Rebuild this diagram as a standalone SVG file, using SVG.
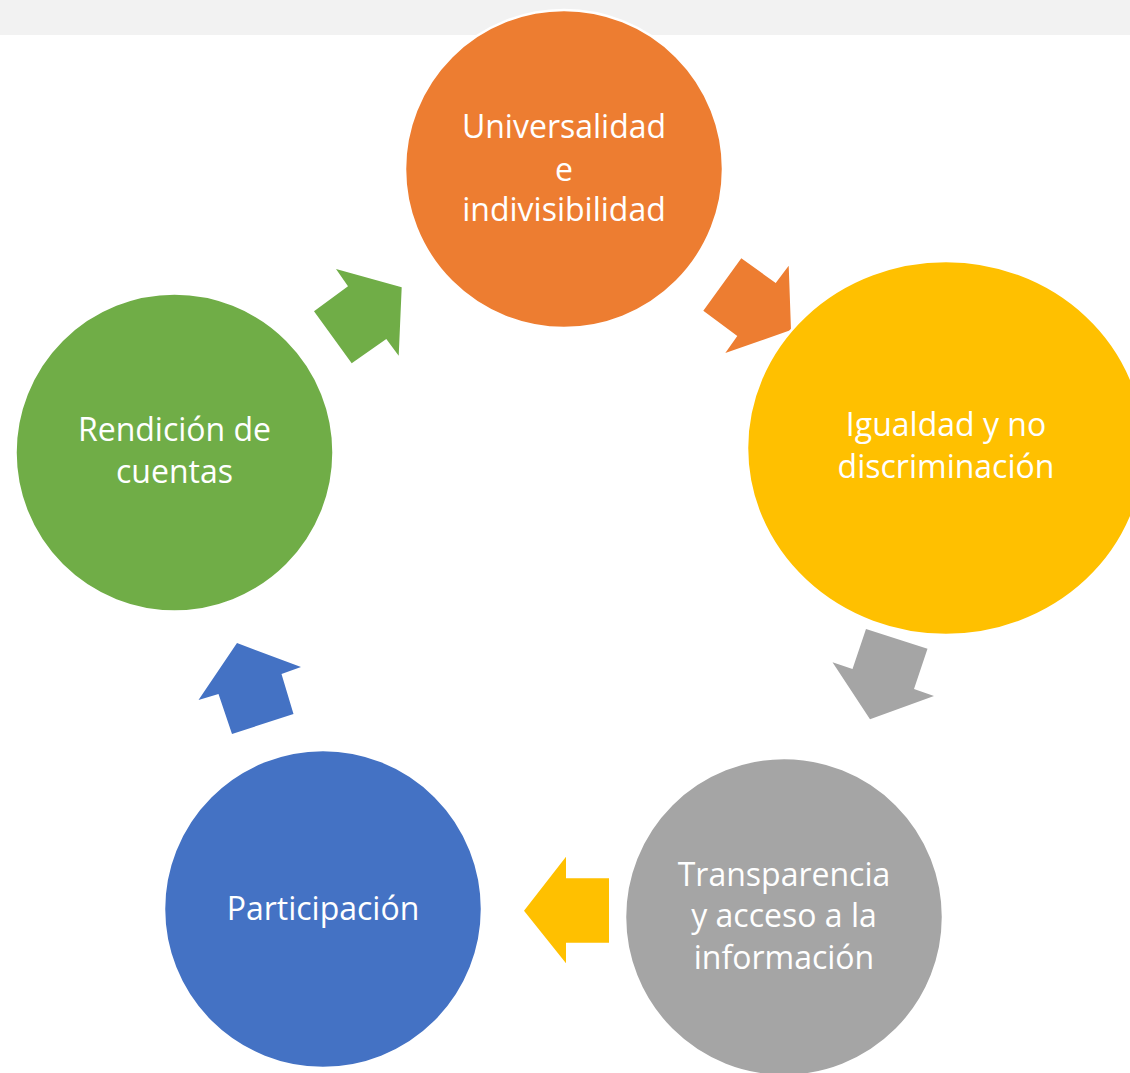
<svg xmlns="http://www.w3.org/2000/svg" width="1130" height="1073" viewBox="0 0 1130 1073">
<style>
.node{stroke:#FFFFFF;stroke-width:2.5}
.lbl{font-family:"Open Sans","Noto Sans","Liberation Sans",sans-serif;font-size:32px;fill:#FFFFFF;text-anchor:middle}
</style>
<rect x="0" y="0" width="1130" height="1073" fill="#FFFFFF"/>
<rect x="0" y="0" width="1130" height="35" fill="#F2F2F2"/>
<g id="connectors">
<polygon fill="#70AD47" points="336,269 401.7,287.3 398.7,355.7 386.3,339 351.7,363.3 314,311.3 348,286.3"/>
<polygon fill="#ED7D31" points="741.3,258.3 775.7,283 788.7,265.7 791,330 725.3,353 737.3,336 703.3,310.7"/>
<polygon fill="#A5A5A5" points="866,629 927.5,648.7 914,689 934,696 870,719.3 832.5,662.3 852.5,669"/>
<polygon fill="#FFC000" points="524,910.7 566,856.7 566,878.3 609,878.3 609,942.7 566,942.7 566,963.3"/>
<polygon fill="#4472C4" points="237,643 301,667 281.5,674 293.5,714 232,734 218.5,694 198.5,700"/>
</g>
<g id="node-universalidad">
<circle class="node" cx="564" cy="169" r="159" fill="#ED7D31"/>
<text class="lbl" x="564" y="138">Universalidad</text>
<text class="lbl" x="564" y="181">e</text>
<text class="lbl" x="564" y="221">indivisibilidad</text>
</g>
<g id="node-igualdad">
<ellipse class="node" cx="946" cy="448" rx="199" ry="187" fill="#FFC000"/>
<text class="lbl" x="946" y="436">Igualdad y no</text>
<text class="lbl" x="946" y="478">discriminación</text>
</g>
<g id="node-transparencia">
<circle class="node" cx="784" cy="917" r="159" fill="#A5A5A5"/>
<text class="lbl" x="784" y="886">Transparencia</text>
<text class="lbl" x="784" y="927">y acceso a la</text>
<text class="lbl" x="784" y="969">información</text>
</g>
<g id="node-participacion">
<circle class="node" cx="323" cy="909" r="159" fill="#4472C4"/>
<text class="lbl" x="323" y="920">Participación</text>
</g>
<g id="node-rendicion">
<circle class="node" cx="174.5" cy="452.5" r="159" fill="#70AD47"/>
<text class="lbl" x="174.5" y="441">Rendición de</text>
<text class="lbl" x="174.5" y="483">cuentas</text>
</g>
</svg>
